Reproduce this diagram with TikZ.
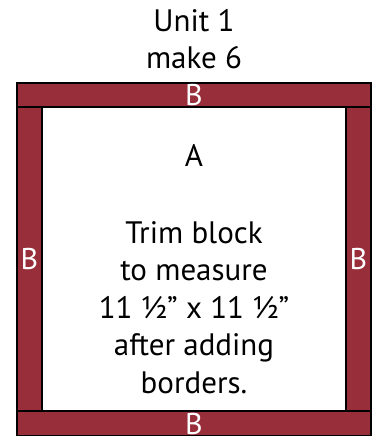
\documentclass[tikz,border=0pt]{standalone}
\usepackage{fontspec}
\setmainfont{PT Sans}
\definecolor{bandred}{RGB}{152,46,58}
\begin{document}
\begin{tikzpicture}[x=1pt,y=-1pt,
  band/.style={draw=black, line width=1.3pt, fill=bandred, text=white, inner sep=0pt, font=\fontsize{30}{30}\selectfont},
  centre/.style={draw=black, line width=1.3pt, fill=white, inner sep=0pt},
  label/.style={align=center, font=\fontsize{31}{37.5}\selectfont, inner sep=0pt}]
\useasboundingbox (0,0) rectangle (373,436);
\fill[white] (0,0) rectangle (373,436);
\node[label, anchor=base] (title) at (194,69) {Unit 1\\make 6};
\node[band, minimum width=25pt, minimum height=304pt] (leftB) at (29.5,259) {B};
\node[band, minimum width=25pt, minimum height=304pt] (rightB) at (358.5,259) {B};
\node[band, minimum width=354pt, minimum height=24pt] (topB) at (194,95) {B};
\node[band, minimum width=354pt, minimum height=25pt] (botB) at (194,423.5) {B};
\node[centre, minimum width=304pt, minimum height=304pt] (A) at (194,259) {};
\node[label, anchor=base] (Alabel) at (194,166) {A};
\node[label, anchor=base] (trim) at (194,393) {Trim block\\to measure\\11 ½” x 11 ½”\\after adding\\borders.};
\end{tikzpicture}
\end{document}
